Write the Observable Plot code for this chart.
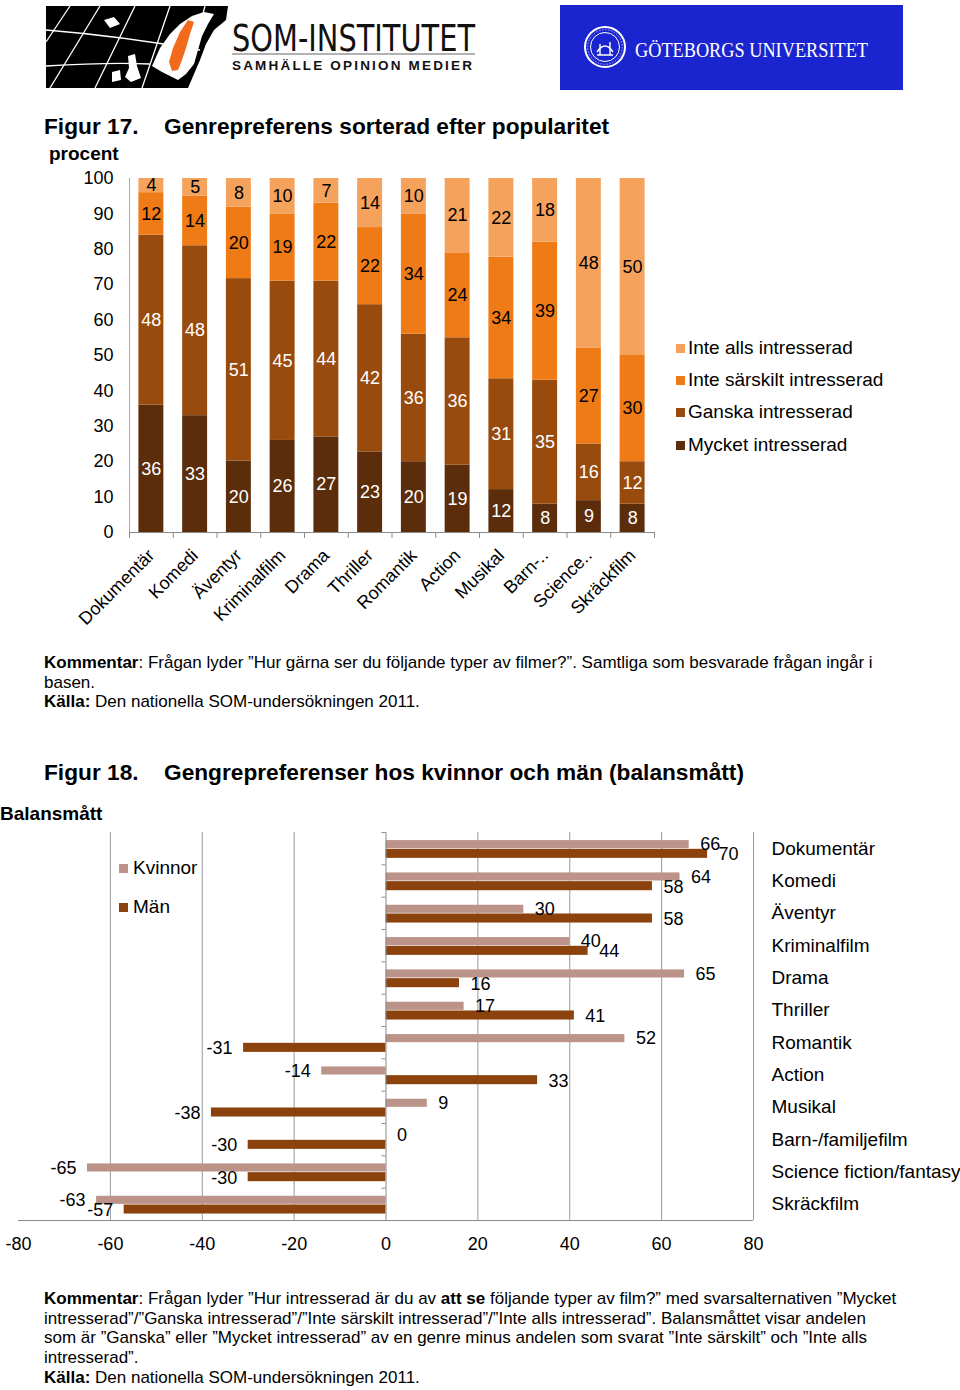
<!DOCTYPE html>
<html>
<head>
<meta charset="utf-8">
<script src="https://cdn.jsdelivr.net/npm/d3@7"></script>
<script src="https://cdn.jsdelivr.net/npm/@observablehq/plot@0.6"></script>
<style>
  html, body { margin: 0; padding: 0; background: #fff; }
  body { width: 960px; height: 1390px; position: relative; overflow: hidden;
         font-family: "Liberation Sans", Arial, Helvetica, sans-serif; color: #000; }
  .abs { position: absolute; white-space: nowrap; }
  .title { font-weight: bold; font-size: 22.7px; }
  .comment { font-size: 17px; line-height: 19.7px; }
  .leg { font-size: 19px; line-height: 19px; }
  .sw { display: inline-block; width: 9px; height: 9px; margin-right: 3px; vertical-align: 1px; }
</style>
</head>
<body>

<!-- Logos -->
<svg class="abs" style="left:0;top:0" width="960" height="100">
  <polygon fill="#000" points="46,6 228,6 226,20 214,30 206,44 200,60 194,74 188,88 46,88"/>
  <g fill="none" stroke="#fff" stroke-width="1.3">
    <path d="M70,6 L46,42"/>
    <path d="M100,6 L50,88"/>
    <path d="M135,6 L95,88"/>
    <path d="M170,6 L142,88"/>
    <path d="M205,6 L196,40"/>
    <path d="M46,30 Q120,36 200,50"/>
    <path d="M46,66 Q110,62 150,64"/>
  </g>
  <polygon fill="#fff" points="152,66 160,48 170,34 180,24 192,16 204,12 214,14 208,24 202,36 198,50 194,64 186,74 178,80 170,76 162,72"/>
  <polygon fill="#fff" points="104,20 114,17 120,24 110,28"/>
  <polygon fill="#fff" points="128,56 135,54 137,66 141,78 131,82 125,77 129,68"/>
  <polygon fill="#fff" points="112,72 120,70 121,80 112,82"/>
  <polygon fill="#f26a1b" points="188,20 194,22 190,34 186,48 182,60 178,70 172,71 169,62 173,48 180,32"/>
  <text x="232" y="51" font-family="'Liberation Sans Narrow','DejaVu Sans Condensed','Liberation Sans',sans-serif" font-size="37" textLength="243" lengthAdjust="spacingAndGlyphs" fill="#111">SOM-INSTITUTET</text>
  <line x1="232" y1="54" x2="475" y2="54" stroke="#666" stroke-width="1"/>
  <text x="232" y="70" font-family="'Liberation Sans',Arial,sans-serif" font-weight="bold" font-size="13.5" textLength="240" lengthAdjust="spacing" fill="#111">SAMHÄLLE  OPINION  MEDIER</text>

  <rect x="560" y="5" width="343" height="85" fill="#1b25cf"/>
  <circle cx="605" cy="47" r="20" fill="none" stroke="#fff" stroke-width="2"/>
  <circle cx="605" cy="47" r="14.5" fill="none" stroke="#fff" stroke-width="1"/>
  <circle cx="605" cy="47" r="17.3" fill="none" stroke="#fff" stroke-width="0.6" stroke-dasharray="1.5 1.5"/>
  <path d="M597,52 Q605,40 613,52 M600,44 L600,55 M610,42 L610,55 M597,55 L613,55" stroke="#fff" stroke-width="1.4" fill="none"/>
  <text x="635" y="57" font-family="'Liberation Serif','DejaVu Serif',serif" font-size="22" textLength="233" lengthAdjust="spacingAndGlyphs" fill="#fff">GÖTEBORGS UNIVERSITET</text>
</svg>

<!-- Figure 17 header -->
<div class="abs title" style="left:44px;top:113px;">Figur 17.</div>
<div class="abs title" style="left:164px;top:113px;">Genrepreferens sorterad efter popularitet</div>
<div class="abs" style="left:49px;top:143px;font-weight:bold;font-size:19px;">procent</div>

<div id="chart1" class="abs" style="left:0;top:170px;"></div>

<div class="abs leg" style="left:676px;top:338px;"><span class="sw" style="background:#f5a25d"></span>Inte alls intresserad</div>
<div class="abs leg" style="left:676px;top:370px;"><span class="sw" style="background:#ef7b17"></span>Inte särskilt intresserad</div>
<div class="abs leg" style="left:676px;top:402px;"><span class="sw" style="background:#994b0d"></span>Ganska intresserad</div>
<div class="abs leg" style="left:676px;top:435px;"><span class="sw" style="background:#5b2d0b"></span>Mycket intresserad</div>

<div class="abs comment" style="left:44px;top:653px;"><b>Kommentar</b>: Frågan lyder ”Hur gärna ser du följande typer av filmer?”. Samtliga som besvarade frågan ingår i<br>basen.<br><b>Källa:</b> Den nationella SOM-undersökningen 2011.</div>

<!-- Figure 18 header -->
<div class="abs title" style="left:44px;top:759px;">Figur 18.</div>
<div class="abs title" style="left:164px;top:759px;">Gengrepreferenser hos kvinnor och män (balansmått)</div>
<div class="abs" style="left:0px;top:803px;font-weight:bold;font-size:19px;">Balansmått</div>

<div id="chart2" class="abs" style="left:0;top:820px;"></div>

<div class="abs leg" style="left:119px;top:858px;"><span class="sw" style="background:#bb9389;margin-right:5px"></span>Kvinnor</div>
<div class="abs leg" style="left:119px;top:897px;"><span class="sw" style="background:#8b420d;margin-right:5px"></span>Män</div>

<div class="abs comment" style="left:44px;top:1289px;"><b>Kommentar</b>: Frågan lyder ”Hur intresserad är du av <b>att se</b> följande typer av film?” med svarsalternativen ”Mycket<br>intresserad”/”Ganska intresserad”/”Inte särskilt intresserad”/”Inte alls intresserad”. Balansmåttet visar andelen<br>som är ”Ganska” eller ”Mycket intresserad” av en genre minus andelen som svarat ”Inte särskilt” och ”Inte alls<br>intresserad”.<br><b>Källa:</b> Den nationella SOM-undersökningen 2011.</div>

<script>
// ---------- Figure 17 data ----------
const genres17 = ["Dokumentär","Komedi","Äventyr","Kriminalfilm","Drama","Thriller","Romantik","Action","Musikal","Barn-..","Science..","Skräckfilm"];
const levels17 = ["Mycket intresserad","Ganska intresserad","Inte särskilt intresserad","Inte alls intresserad"];
const mycket      = [36,33,20,26,27,23,20,19,12, 8, 9, 8];
const ganska      = [48,48,51,45,44,42,36,36,31,35,16,12];
const inteSarskilt= [12,14,20,19,22,22,34,24,34,39,27,30];
const inteAlls    = [ 4, 5, 8,10, 7,14,10,21,22,18,48,50];
const colors17    = ["#5b2d0b","#994b0d","#ef7b17","#f5a25d"];
const yTicks17    = [0,10,20,30,40,50,60,70,80,90,100];

// ---------- Figure 18 data ----------
const genres18 = ["Dokumentär","Komedi","Äventyr","Kriminalfilm","Drama","Thriller","Romantik","Action","Musikal","Barn-/familjefilm","Science fiction/fantasy","Skräckfilm"];
const kvinnor = [66,64,30,40,65,17,52,-14, 9,  0,-65,-63];
const man     = [70,58,58,44,16,41,-31,33,-38,-30,-30,-57];
const xTicks18 = [-80,-60,-40,-20,0,20,40,60,80];
const gridTicks18 = [-60,-40,-20,20,40,60,80];

const font = "'Liberation Sans', Arial, Helvetica, sans-serif";

// Build stacked (normalized to 100) table for figure 17
const series17 = [mycket, ganska, inteSarskilt, inteAlls];
const rows17 = [];
genres17.forEach((g, i) => {
  const sum = d3.sum(series17, s => s[i]);
  let acc = 0;
  series17.forEach((s, j) => {
    const v = s[i];
    rows17.push({i, genre: g, level: levels17[j], j, v, y1: acc / sum * 100, y2: (acc + v) / sum * 100});
    acc += v;
  });
});

const chart1 = Plot.plot({
  width: 660, height: 510,
  marginTop: 8, marginBottom: 148, marginLeft: 129, marginRight: 6,
  style: {fontSize: "18px", fontFamily: font, color: "#000", background: "transparent", overflow: "visible"},
  x: {domain: [0, genres17.length], axis: null},
  y: {domain: [0, 100], axis: null},
  color: {domain: levels17, range: colors17},
  marks: [
    Plot.rect(rows17, {x1: "i", x2: d => d.i + 1, y1: "y1", y2: "y2", fill: "level", insetLeft: 9.4, insetRight: 9.4}),
    Plot.text(rows17, {filter: d => d.j < 2, x: d => d.i + 0.5, y: d => (d.y1 + d.y2) / 2, text: d => String(d.v), fill: "#fff", fontSize: 18}),
    Plot.text(rows17, {filter: d => d.j >= 2, x: d => d.i + 0.5, y: d => (d.y1 + d.y2) / 2, text: d => String(d.v), fill: "#000", fontSize: 18}),
    Plot.ruleY([0], {stroke: "#8a8a8a"}),
    Plot.ruleX([0], {stroke: "#aaaaaa"}),
    Plot.axisY({ticks: yTicks17, tickSize: 0, tickPadding: 16, tickFormat: d => String(d), label: null}),
    Plot.axisX({ticks: d3.range(genres17.length + 1), tickSize: 6, tickFormat: () => "", stroke: "#8a8a8a", label: null}),
    Plot.axisX({ticks: genres17.map((g, i) => i + 0.5), tickFormat: t => genres17[Math.floor(t)], tickSize: 0, tickPadding: 20, tickRotate: -45, label: null})
  ]
});
document.getElementById("chart1").appendChild(chart1);

// Figure 18
const K = genres18.map((g, i) => ({i, g, v: kvinnor[i]}));
const M = genres18.map((g, i) => ({i, g, v: man[i]}));

const chart2 = Plot.plot({
  width: 960, height: 440,
  marginTop: 12, marginBottom: 40, marginLeft: 18, marginRight: 207,
  style: {fontSize: "18px", fontFamily: font, color: "#000", background: "transparent", overflow: "visible"},
  x: {domain: [-80, 80], axis: null},
  y: {domain: [0, genres18.length], reverse: true, axis: null},
  marks: [
    Plot.ruleX(gridTicks18, {stroke: "#9a9a9a"}),
    Plot.rect(K, {x1: 0, x2: "v", y1: d => d.i + 0.25, y2: d => d.i + 0.5, fill: "#bb9389"}),
    Plot.rect(M, {x1: 0, x2: "v", y1: d => d.i + 0.52, y2: d => d.i + 0.8, fill: "#8b420d"}),
    Plot.ruleX([0], {stroke: "#8a8a8a"}),
    Plot.ruleY(d3.range(genres18.length + 1), {y: d => d, x1: 0, x2: 0, insetLeft: -4, stroke: "#8a8a8a"}),
    Plot.ruleY([genres18.length], {stroke: "#8a8a8a"}),
    Plot.axisX({ticks: xTicks18, tickSize: 0, tickPadding: 17, tickFormat: d => String(d), label: null}),
    Plot.text(K, {filter: d => d.v >= 0, x: "v", y: d => d.i + 0.37, text: d => String(d.v), textAnchor: "start", dx: 11}),
    Plot.text(K, {filter: d => d.v < 0, x: "v", y: d => d.i + 0.37, text: d => String(d.v), textAnchor: "end", dx: -11}),
    Plot.text(M, {filter: d => d.v >= 0, x: "v", y: d => d.i + 0.68, text: d => String(d.v), textAnchor: "start", dx: 11}),
    Plot.text(M, {filter: d => d.v < 0, x: "v", y: d => d.i + 0.68, text: d => String(d.v), textAnchor: "end", dx: -11}),
    Plot.text(genres18, {y: (d, i) => i + 0.5, text: d => d, frameAnchor: "right", textAnchor: "start", dx: 18, fontSize: 19})
  ]
});
document.getElementById("chart2").appendChild(chart2);
</script>
</body>
</html>
